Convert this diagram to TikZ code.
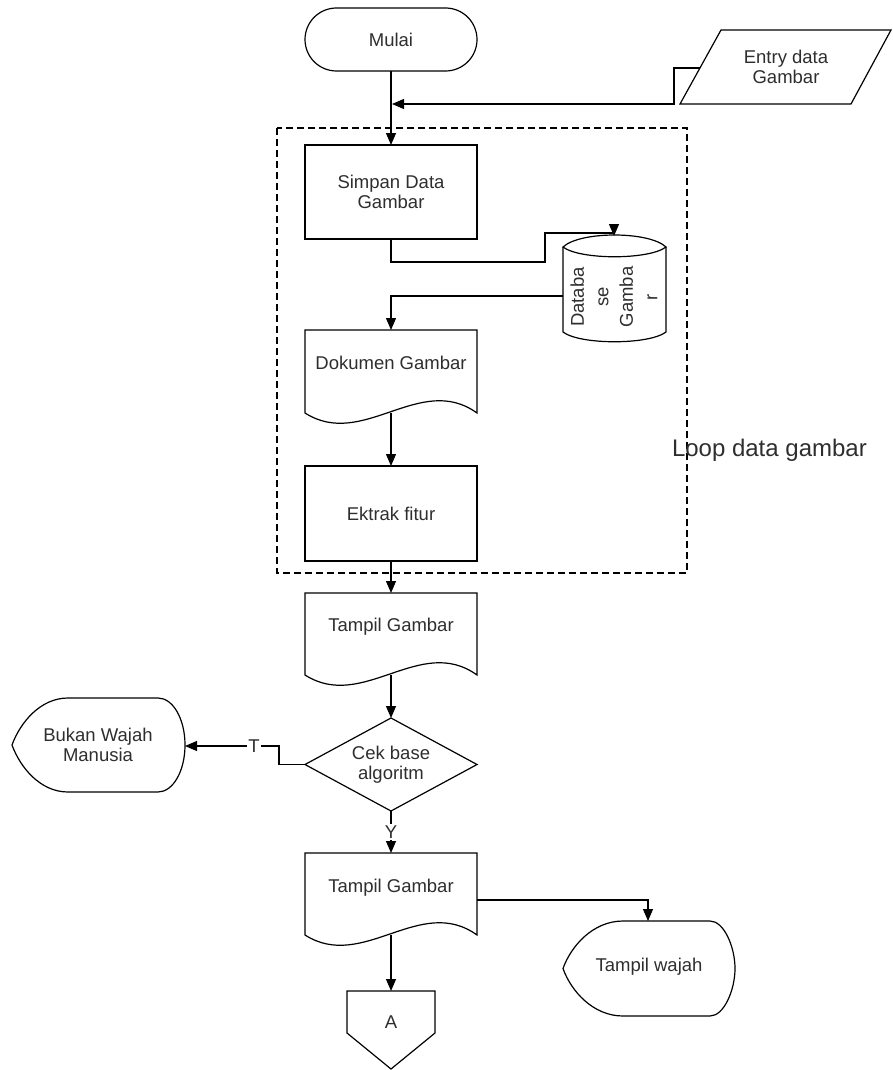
\documentclass[tikz,border=0pt]{standalone}
\usepackage{fontspec}
\setmainfont{Liberation Sans}
\usetikzlibrary{arrows.meta,calc,shapes.geometric}

% outline of a document symbol (wavy bottom) around an empty frame node
\newcommand\docoutline[1]{%
  \draw[ln] (#1.south west) -- (#1.north west) -- (#1.north east) -- (#1.south east)
    .. controls ($(#1.south east)+(-57,-41)$) and ($(#1.south west)+(58,37)$) .. (#1.south west) -- cycle;}

\begin{document}
\begin{tikzpicture}[x=1pt,y=-1pt,
  every node/.style={font=\fontsize{18.5}{20.5}\selectfont, text=black!82, inner sep=0pt, outer sep=0pt},
  ln/.style={line width=1.2pt, draw=black},
  arr/.style={ln, -{Triangle[length=12pt,width=10pt]}},
  frame/.style={draw=none, rectangle, minimum width=172pt},
  box/.style={ln, rectangle, minimum width=172pt, align=center},
  lbl/.style={fill=white, inner sep=1.5pt},
]
\useasboundingbox (0,0) rectangle (892,1070);

% start terminal
\node[box, rounded corners=31.5pt, minimum height=63pt] (mulai) at (391,39.5) {Mulai};

% input parallelogram
\draw[ln] (721,30) -- (891,30) -- (851,104) -- (680,104) -- cycle;
\node[align=center] (entry) at (786,67) {Entry data\\Gambar};
\coordinate (entryin) at (700,68);
\coordinate (join) at (392,104);

% loop region
\draw[ln, dash pattern=on 7pt off 4pt] (277,128) rectangle (687,573);
\node[anchor=base west, font=\fontsize{24}{28}\selectfont] (loop) at (672,456) {Loop data gambar};

\node[box, minimum height=94pt] (simpan) at (391,192) {Simpan Data\\Gambar};

% database cylinder
\draw[ln] (563,247) .. controls (580,231) and (649,231) .. (666,247)
          .. controls (649,260) and (580,260) .. (563,247) -- cycle;
\draw[ln] (563,247) -- (563,332) .. controls (580,345) and (649,345) .. (666,332) -- (666,247);
\node[rotate=90, align=center, font=\fontsize{18.5}{24.5}\selectfont] (dbtext) at (614,297) {Databa\\se\\Gamba\\r};
\coordinate (dbtop) at (614,236);
\coordinate (dbside) at (563,296);

% document: Dokumen Gambar
\node[frame, minimum height=83pt] (dok) at (391,371.5) {};
\docoutline{dok}
\node (doktext) at (391,363) {Dokumen Gambar};

\node[box, minimum height=95pt] (ektrak) at (391,513.5) {Ektrak fitur};

% document: first Tampil Gambar
\node[frame, minimum height=82pt] (tg1) at (391,634) {};
\docoutline{tg1}
\node (tg1text) at (391,627) {Tampil Gambar};

% decision
\node[ln, draw, diamond, minimum width=172pt, minimum height=93pt, aspect=1.85, align=center] (cek) at (391,764.5) {Cek base\\algoritm};

% display: Bukan Wajah Manusia
\draw[ln] (12,745) .. controls (20,723) and (40,698) .. (68,698) -- (158,698)
  .. controls (173,698) and (185,719) .. (185,745)
  .. controls (185,771) and (173,792) .. (158,792) -- (68,792)
  .. controls (40,792) and (20,767) .. (12,745) -- cycle;
\node[align=center] (bukan) at (98,745) {Bukan Wajah\\Manusia};
\coordinate (bukanR) at (185,746);

% document: second Tampil Gambar
\node[frame, minimum height=82pt] (tg2) at (391,894) {};
\docoutline{tg2}
\node (tg2text) at (391,888) {Tampil Gambar};
\coordinate (tg2r) at (477,900);

% display: Tampil wajah
\draw[ln] (563,968.5) .. controls (571,946) and (593,921) .. (623,921) -- (710,921)
  .. controls (724,921) and (735,947) .. (735,968.5)
  .. controls (735,990) and (724,1016) .. (710,1016) -- (623,1016)
  .. controls (593,1016) and (571,991) .. (563,968.5) -- cycle;
\node (wajah) at (649,967) {Tampil wajah};
\coordinate (wajahtop) at (648,921);

% off-page connector A
\draw[ln] (347,991) -- (435,991) -- (435,1033) -- (391,1069) -- (347,1033) -- cycle;
\node (atext) at (391,1022) {A};
\coordinate (atop) at (391,991);

% connectors
\draw[arr] (mulai.south) -- (simpan.north);
\draw[arr] (entryin) -- (674,68) |- (join);
\draw[arr] (simpan.south) |- (545,262) |- (614,233) -- (dbtop);
\draw[arr] (dbside) -| (dok.north);
\draw[arr] (dok.south) -- (ektrak.north);
\draw[arr] (ektrak.south) -- (tg1.north);
\draw[arr] (tg1.south) -- (cek.north);
\draw[arr] (cek.west) -- (279,764.5) |- (bukanR);
\node[lbl] (tlabel) at (254,746) {T};
\draw[arr] (cek.south) -- (tg2.north);
\node[lbl] (ylabel) at (391,832) {Y};
\draw[arr] (tg2r) -| (wajahtop);
\draw[arr] (tg2.south) -- (atop);
\end{tikzpicture}
\end{document}
